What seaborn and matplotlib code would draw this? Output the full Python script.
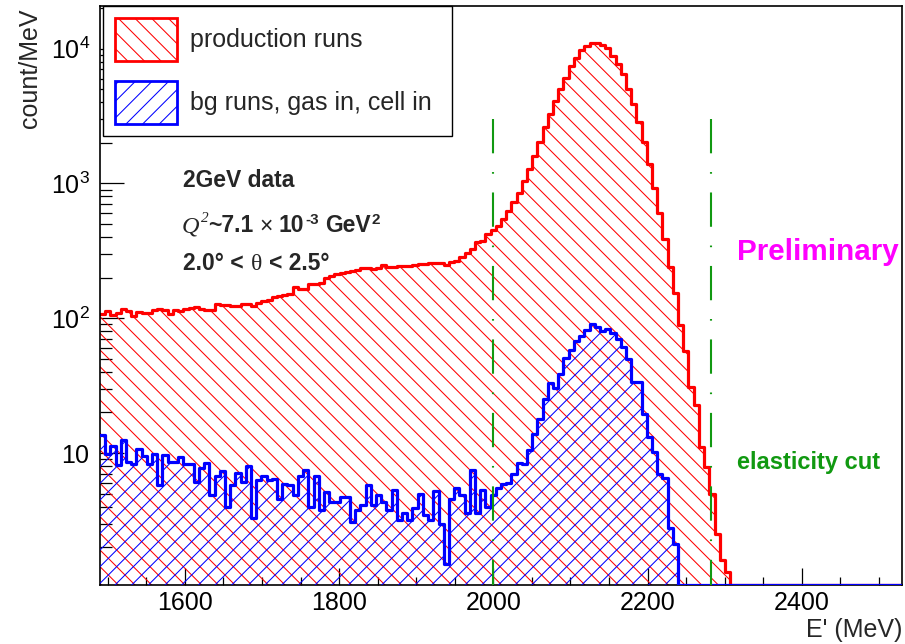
import numpy as np
import pandas as pd
import matplotlib
matplotlib.use("Agg")
import matplotlib.pyplot as plt
import seaborn as sns
from matplotlib.patches import Patch
from matplotlib.ticker import (FixedLocator, FixedFormatter, MultipleLocator,
                               LogLocator, NullFormatter)

# ---- binning of the E' spectra (MeV) ----
E_MIN, E_MAX, N_BINS = 1490.0, 2530.0, 154
Y_MIN, Y_MAX = 1.05, 2.07e4

# counts per MeV, one entry per bin
production_runs = [
    108, 113, 106, 110, 117, 114, 103, 111, 110, 109,
    115, 117, 116, 108, 115, 114, 117, 120, 121, 117,
    116, 115, 128, 126, 125, 124, 124, 128, 127, 124,
    130, 135, 137, 143, 146, 148, 150, 170, 166, 165,
    180, 178, 182, 200, 205, 214, 218, 220, 224, 228,
    234, 236, 233, 236, 250, 240, 240, 242, 243, 244,
    247, 252, 254, 256, 258, 257, 250, 262, 268, 284,
    306, 326, 366, 377, 420, 452, 486, 545, 628, 723,
    849, 1035, 1279, 1605, 2013, 2601, 3266, 4103, 5003, 6100,
    7447, 8577, 9722, 10470, 10960, 11070, 10640, 10060, 8830, 7660,
    6460, 5003, 3873, 2832, 2013, 1393, 930, 600, 387, 239,
    153, 89, 57, 31, 22.6, 11.1, 7.9, 5.0, 2.5, 1.6,
    1.3, 0, 0, 0, 0, 0, 0, 0, 0, 0,
    0, 0, 0, 0, 0, 0, 0, 0, 0, 0,
    0, 0, 0, 0, 0, 0, 0, 0, 0, 0,
    0, 0, 0, 0,
]

bg_runs = [
    13.5, 9.9, 11.2, 8.2, 12.6, 8.6, 8.3, 10.8, 9.5, 8.3,
    9.9, 5.8, 9.7, 8.6, 8.6, 9.3, 8.3, 8.3, 6.1, 7.7,
    8.4, 4.9, 6.8, 7.4, 4.0, 5.8, 7.1, 6.1, 8.0, 3.3,
    6.3, 6.8, 6.3, 6.4, 4.6, 5.9, 5.8, 4.9, 6.8, 7.5,
    4.0, 6.7, 3.8, 5.1, 4.3, 4.3, 4.7, 4.7, 3.1, 3.8,
    4.1, 5.8, 4.1, 4.9, 4.3, 3.8, 5.3, 3.2, 3.6, 3.2,
    3.9, 5.0, 3.5, 3.2, 5.2, 3.0, 1.5, 4.6, 5.5, 4.9,
    3.6, 7.5, 3.6, 5.3, 4.0, 4.9, 5.5, 5.9, 6.0, 7.0,
    8.4, 8.3, 10.5, 13.9, 18.0, 25.3, 33.0, 30.5, 38.8, 50.9,
    57.7, 67.6, 73.2, 81.1, 90.9, 85.8, 80.2, 82.5, 77.5, 70.3,
    61.0, 50.0, 33.6, 33.6, 19.4, 13.2, 10.2, 7.0, 6.5, 2.8,
    2.1, 0, 0, 0, 0, 0, 0, 0, 0, 0,
    0, 0, 0, 0, 0, 0, 0, 0, 0, 0,
    0, 0, 0, 0, 0, 0, 0, 0, 0, 0,
    0, 0, 0, 0, 0, 0, 0, 0, 0, 0,
    0, 0, 0, 0,
]

cut_positions = [2000.0, 2282.0]
cut_top = 3000.0
x_ticks = [1600, 1800, 2000, 2200, 2400]
y_ticks = [10, 100, 1000, 10000]
y_tick_labels = [r"$\mathregular{10}$", r"$\mathregular{10^{2}}$",
                 r"$\mathregular{10^{3}}$", r"$\mathregular{10^{4}}$"]
legend_labels = ["production runs", "bg runs, gas in, cell in"]

RED, BLUE, GREEN, MAGENTA = "#ff0000", "#0000ff", "#119911", "#ff00ff"

sns.set_theme(style="ticks")
plt.rcParams["font.family"] = ["Liberation Sans", "DejaVu Sans"]
plt.rcParams["hatch.linewidth"] = 0.75
plt.rcParams["lines.scale_dashes"] = False

W, H = 905, 644
fig = plt.figure(figsize=(W / 100, H / 100), dpi=100)
fig.patch.set_facecolor("white")
ax = fig.add_axes([100 / W, 1 - 585 / H, 802 / W, 579 / H])
ax.set_facecolor("white")
ax.set_yscale("log")

edges = np.linspace(E_MIN, E_MAX, N_BINS + 1)


def draw_hist(counts, color, hatch, z):
    c = np.asarray(counts, dtype=float)
    # empty bins are drawn along the lower frame, as in a log-scale step plot
    top = np.clip(np.append(c, c[-1]), Y_MIN, None)
    ax.fill_between(edges, Y_MIN, top, step="post", facecolor="none",
                    edgecolor=color, hatch=hatch, linewidth=0, zorder=z)
    df = pd.DataFrame({"E": edges, "count": top})
    sns.lineplot(data=df, x="E", y="count", drawstyle="steps-post",
                 color=color, linewidth=2.3, estimator=None, errorbar=None,
                 sort=False, ax=ax, zorder=z + 0.5)


draw_hist(production_runs, RED, "\\\\", 2)
draw_hist(bg_runs, BLUE, "//", 3)

for xc in cut_positions:
    ax.plot([xc, xc], [cut_top, Y_MIN], color=GREEN, linewidth=1.5,
            linestyle=(0, (24.7, 13.5, 1.2, 13.5)), dash_capstyle="butt",
            zorder=4, clip_on=False)

ax.set_xlim(E_MIN, E_MAX)
ax.set_ylim(Y_MIN, Y_MAX)
ax.set_xlabel("")
ax.set_ylabel("")

ax.xaxis.set_major_locator(FixedLocator(x_ticks))
ax.xaxis.set_minor_locator(MultipleLocator(50))
ax.yaxis.set_major_locator(FixedLocator(y_ticks))
ax.yaxis.set_major_formatter(FixedFormatter(y_tick_labels))
ax.yaxis.set_minor_locator(LogLocator(base=10, subs=np.arange(2, 10)))
ax.yaxis.set_minor_formatter(NullFormatter())

ax.tick_params(which="both", direction="in", top=False, right=False,
               colors="black", width=0.9, labelsize=18)
ax.tick_params(axis="x", which="major", length=12, pad=4.2)
ax.tick_params(axis="x", which="minor", length=5.8)
ax.tick_params(axis="y", which="major", length=17, pad=7)
ax.tick_params(axis="y", which="minor", length=8.6)
for sp in ax.spines.values():
    sp.set_visible(True)
    sp.set_color("black")
    sp.set_linewidth(1.2)

handles = [
    Patch(facecolor="none", edgecolor=RED, hatch="\\\\", linewidth=2.0),
    Patch(facecolor="none", edgecolor=BLUE, hatch="//", linewidth=2.0),
]
leg = ax.legend(handles, legend_labels, loc="upper left",
                bbox_to_anchor=(103 / W, 1 - 137 / H, 349 / W, 131 / H),
                bbox_transform=fig.transFigure, borderaxespad=0,
                mode="expand",
                fontsize=18, handlelength=2.5, handleheight=2.3,
                handletextpad=0.5, labelspacing=0.78, borderpad=0.47,
                frameon=True, fancybox=False, framealpha=1,
                edgecolor="black")
leg.get_frame().set_linewidth(1.0)
leg.set_zorder(10)

# axis titles
fig.text(30 / W, 1 - 8 / H, "count/MeV", rotation=90, ha="center", va="top",
         fontsize=18)
fig.text(902 / W, 1 - 630 / H, "E' (MeV)", ha="right", va="center",
         fontsize=18)

renderer = fig.canvas.get_renderer()


def place_runs(x_px, base_px, runs):
    """Write text pieces one after another on a common baseline."""
    x = x_px
    for s, kw, rise, gap in runs:
        t = fig.text(x / W, 1 - (base_px - rise) / H, s, ha="left",
                     va="baseline", **kw)
        x += t.get_window_extent(renderer).width + gap


bold = dict(fontsize=16.5, fontweight="bold", family="Liberation Sans")
sup_bold = dict(fontsize=11, fontweight="bold", family="Liberation Sans")
serif_it = dict(fontsize=17.5, style="italic", family="Liberation Serif")
sup_it = dict(fontsize=11, style="italic", family="Liberation Serif")
plain = dict(fontsize=16.5, family="Liberation Sans")
serif = dict(fontsize=17, family="Liberation Serif")

place_runs(183, 187, [("2GeV data", bold, 0, 0)])
place_runs(182, 232.5, [
    ("Q", serif_it, 0, 1),
    ("2", sup_it, 10, 0),
    ("~7.1", bold, 0, 6),
    ("\u00d7", plain, 0, 6),
    ("10", bold, 0, 1),
    ("-3", sup_bold, 9, 6),
    ("GeV", bold, 0, 1),
    ("2", sup_bold, 9, 0),
])
place_runs(183, 270, [
    ("2.0\u00b0 <", bold, 0, 7),
    ("\u03b8", serif, 0, 7),
    ("< 2.5\u00b0", bold, 0, 0),
])

fig.text(737 / W, 1 - 259.5 / H, "Preliminary", color=MAGENTA,
         fontsize=21.3, fontweight="bold", ha="left", va="baseline")
fig.text(737 / W, 1 - 469 / H, "elasticity cut", color=GREEN,
         fontsize=17, fontweight="bold", ha="left", va="baseline")

fig.savefig("out.png", dpi=100)
